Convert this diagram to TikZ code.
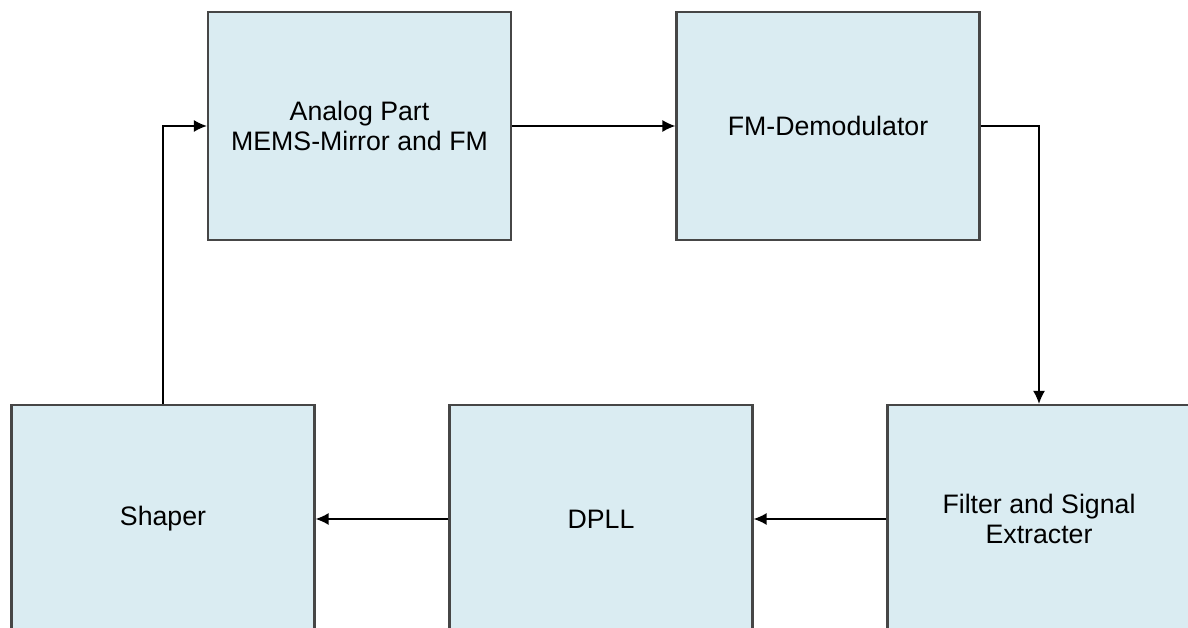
\documentclass[tikz,border=0pt]{standalone}
\usepackage{fontspec}
\setmainfont{Liberation Sans}
\usetikzlibrary{arrows.meta, positioning}
\definecolor{boxfill}{RGB}{218,236,242}
\definecolor{boxline}{RGB}{70,70,70}

\begin{document}
\begin{tikzpicture}[>={Latex[length=2.6mm,width=2.4mm]},
    font=\fontsize{15.2}{17}\selectfont,
    block/.style={draw=boxline, line width=1.3pt, fill=boxfill, minimum width=6.06cm, minimum height=4.56cm, align=center, inner sep=0pt},
    link/.style={->, line width=0.8pt}]

    \clip (0,0) rectangle (23.76,12.56);

    % --- obere Reihe ---
    \node[block] (analog) at (7.19,10.04) {Analog Part\\MEMS-Mirror and FM};
    \node[block] (demod) at (16.56,10.04) {FM-Demodulator};

    % --- untere Reihe ---
    \node[block] (shaper) at (3.26,2.18) {Shaper};
    \node[block] (dpll) at (12.02,2.18) {DPLL};
    \node[block] (filter) at (20.78,2.18) {Filter and Signal\\Extracter};

    % --- Verbindungen ---
    \draw[link] (analog) -- (demod);
    \draw[link] (demod.east) -| (filter.north);
    \draw[link] (filter) -- (dpll);
    \draw[link] (dpll) -- (shaper);
    \draw[link] (shaper.north) |- (analog.west);

\end{tikzpicture}
\end{document}
